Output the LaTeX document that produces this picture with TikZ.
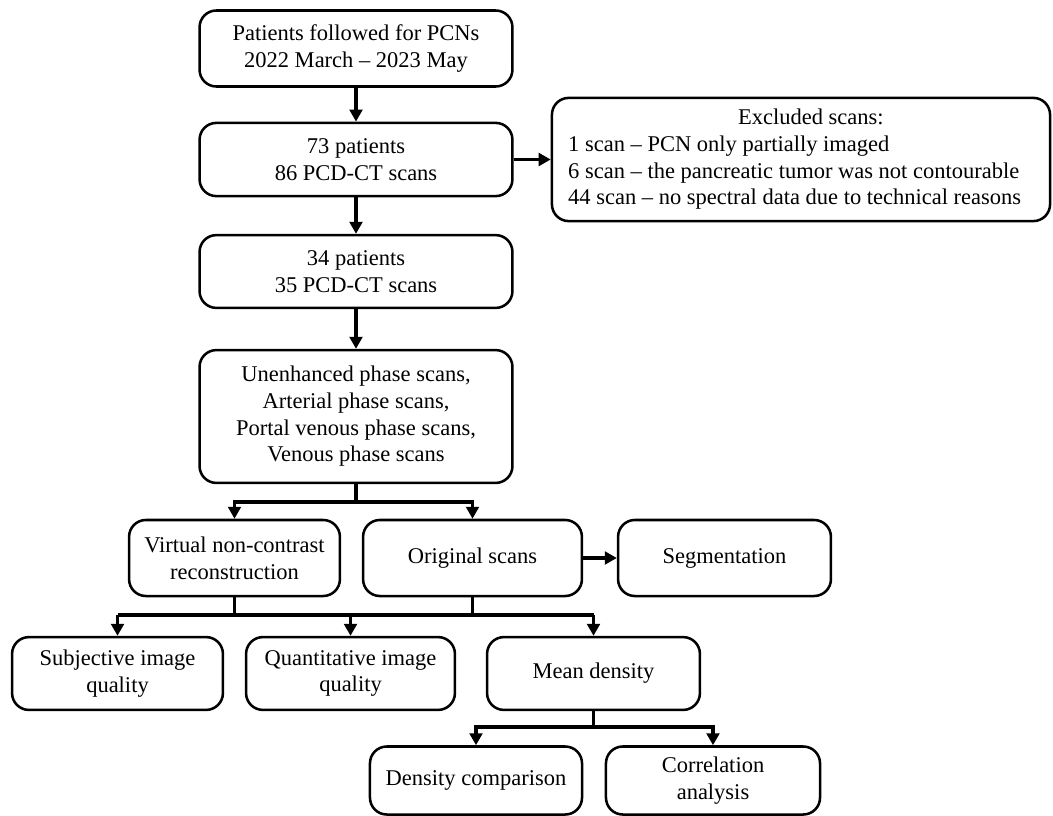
\documentclass[tikz,border=0pt]{standalone}
\usepackage{fontspec}
\setmainfont{Liberation Serif}
\usetikzlibrary{arrows.meta}

\begin{document}
\begin{tikzpicture}[x=0.025cm, y=-0.025cm,
        flowbox/.style={draw, line width=1.8pt, rounded corners=0.42cm, align=center,
            inner sep=2pt, font=\fontsize{16}{19}\selectfont},
        link/.style={line width=2.4pt},
        arrowlink/.style={link, -{Triangle[width=9pt,length=8.5pt]}}]
        \useasboundingbox (0,0) rectangle (1053,816);

        % main column
        \node [flowbox, minimum width=7.82cm, minimum height=1.9cm] (start) at (356, 48.5)
            {Patients followed for PCNs\\2022 March -- 2023 May};
        \node [flowbox, minimum width=7.82cm, minimum height=1.83cm] (all) at (356, 159.5)
            {73 patients\\86 PCD-CT scans};
        \node [flowbox, minimum width=12.45cm, minimum height=3.08cm, inner sep=0pt] (excl) at (801, 159.5)
            {\begin{tabular}{@{}l@{\hspace{9pt}}}
                \multicolumn{1}{@{\hspace{14pt}}c@{}}{Excluded scans:}\\
                1 scan -- PCN only partially imaged\\
                6 scan -- the pancreatic tumor was not contourable\\
                44 scan -- no spectral data due to technical reasons
            \end{tabular}};
        \node [flowbox, minimum width=7.82cm, minimum height=1.82cm] (incl) at (356, 271.5)
            {34 patients\\35 PCD-CT scans};
        \node [flowbox, minimum width=7.82cm, minimum height=3.32cm] (phases) at (356, 416.5)
            {Unenhanced phase scans,\\Arterial phase scans,\\Portal venous phase scans,\\Venous phase scans};

        % reconstructions
        \node [flowbox, minimum width=5.27cm, minimum height=1.9cm] (vnc) at (234.5, 558)
            {Virtual non-contrast\\reconstruction};
        \node [flowbox, minimum width=5.47cm, minimum height=1.9cm] (orig) at (472.5, 558)
            {Original scans};
        \node [flowbox, minimum width=5.32cm, minimum height=1.9cm] (seg) at (724.5, 558)
            {Segmentation};

        % analyses
        \node [flowbox, minimum width=5.27cm, minimum height=1.82cm] (subj) at (117.5, 673.5)
            {Subjective image\\quality};
        \node [flowbox, minimum width=5.22cm, minimum height=1.82cm] (quant) at (350.5, 673.5)
            {Quantitative image\\quality};
        \node [flowbox, minimum width=5.32cm, minimum height=1.82cm] (mean) at (593.5, 673.5)
            {Mean density};
        \node [flowbox, minimum width=5.3cm, minimum height=1.7cm] (comp) at (476, 780.5)
            {Density comparison};
        \node [flowbox, minimum width=5.35cm, minimum height=1.7cm] (corr) at (713, 780.5)
            {Correlation\\analysis};

        \coordinate (split1) at (0, 502);
        \coordinate (split2) at (0, 615);
        \coordinate (split3) at (0, 727);

        \draw [arrowlink] (start) -- (all);
        \draw [arrowlink] (all.east) -- (all.east -| excl.west);
        \draw [arrowlink] (all) -- (incl);
        \draw [arrowlink] (incl) -- (phases);

        \draw [link] (phases.south) -- (phases.south |- split1);
        \draw [arrowlink] (phases.south |- split1) -| (vnc.north);
        \draw [arrowlink] (phases.south |- split1) -| (orig.north);
        \draw [arrowlink] (orig.east) -- (seg.west);

        \draw [link] (vnc.south) -- (vnc.south |- split2);
        \draw [link] (orig.south) -- (orig.south |- split2);
        \draw [link] (subj.north |- split2) -- (mean.north |- split2);
        \draw [arrowlink] (subj.north |- split2) -- (subj.north);
        \draw [arrowlink] (quant.north |- split2) -- (quant.north);
        \draw [arrowlink] (mean.north |- split2) -- (mean.north);

        \draw [link] (mean.south) -- (mean.south |- split3);
        \draw [arrowlink] (mean.south |- split3) -| (comp.north);
        \draw [arrowlink] (mean.south |- split3) -| (corr.north);
    \end{tikzpicture}
\end{document}
